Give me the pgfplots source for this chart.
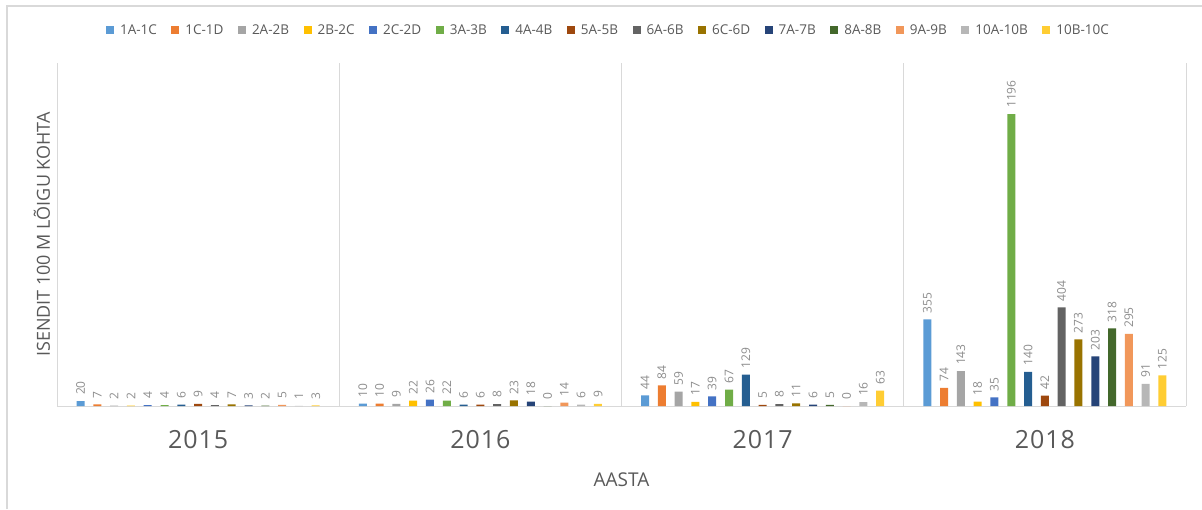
\documentclass[border=0pt]{standalone}
\usepackage{fontspec}
\setmainfont{Open Sans}
\usepackage{pgfplots}
\pgfplotsset{compat=1.18}
\definecolor{c1}{HTML}{5B9BD5}
\definecolor{c2}{HTML}{ED7D31}
\definecolor{c3}{HTML}{A5A5A5}
\definecolor{c4}{HTML}{FFC000}
\definecolor{c5}{HTML}{4472C4}
\definecolor{c6}{HTML}{70AD47}
\definecolor{c7}{HTML}{255E91}
\definecolor{c8}{HTML}{9E480E}
\definecolor{c9}{HTML}{636363}
\definecolor{c10}{HTML}{997300}
\definecolor{c11}{HTML}{264478}
\definecolor{c12}{HTML}{43682B}
\definecolor{c13}{HTML}{F1975A}
\definecolor{c14}{HTML}{B7B7B7}
\definecolor{c15}{HTML}{FFCD33}
\definecolor{txt}{HTML}{595959}
\definecolor{lbl}{HTML}{8C8C8C}
\definecolor{grd}{HTML}{D9D9D9}
\begin{document}
\begin{tikzpicture}[x=1pt,y=1pt]
\useasboundingbox (0,0) rectangle (1202,509);
\draw[grd, line width=1.2pt] (7,0) -- (7,503) -- (1202,503);
\begin{axis}[
  at={(57pt,103pt)}, anchor=south west,
  scale only axis, width=1129pt, height=343pt,
  ybar=8.8pt, bar width=8pt,
  xmin=-0.5, xmax=3.5, ymin=0, ymax=1405,
  xtick={0,1,2,3}, xticklabels={2015,2016,2017,2018},
  minor xtick={-0.5,0.5,1.5,2.5,3.5},
  xminorgrids=true, minor grid style={grd, line width=0.8pt},
  major tick length=0pt, minor tick length=0pt,
  ytick=\empty,
  extra y ticks={0}, extra y tick labels={}, extra y tick style={ymajorgrids=true, major grid style={grd, line width=1pt}},
  axis line style={draw=none},
  /pgf/number format/.cd, assume math mode=true, 1000 sep={},
  /pgfplots/.cd,
  xticklabel style={font=\fontsize{25}{27}\selectfont\addfontfeature{LetterSpace=4}, text=txt, yshift=-21pt},
  xlabel={AASTA},
  xlabel style={at={(rel axis cs:0.5,0)}, anchor=center, yshift=-74pt, font=\fontsize{19}{21}\selectfont, text=txt},
  ylabel={ISENDIT 100 M LÕIGU KOHTA},
  ylabel style={at={(rel axis cs:0,0.5)}, anchor=center, yshift=15pt, font=\fontsize{18}{20}\selectfont, text=txt},
  nodes near coords,
  every node near coord/.append style={rotate=90, anchor=west, font=\fontsize{12}{13}\selectfont, text=lbl, inner xsep=6pt, inner ysep=0pt},
  clip=false,
  legend columns=15,
  legend style={at={(rel axis cs:0.5,1)}, anchor=center, yshift=33pt, xshift=-13pt, draw=none, fill=none,
    font=\fontsize{13.5}{15}\selectfont, text=txt, column sep=4pt,
    /tikz/every even column/.append style={column sep=12.5pt}},
  legend image code/.code={\fill[#1] (0pt,-4pt) rectangle (8pt,4pt);},
]
\addplot[fill=c1, draw=none] coordinates {(0,20) (1,10) (2,44) (3,355)};
\addplot[fill=c2, draw=none] coordinates {(0,7) (1,10) (2,84) (3,74)};
\addplot[fill=c3, draw=none] coordinates {(0,2) (1,9) (2,59) (3,143)};
\addplot[fill=c4, draw=none] coordinates {(0,2) (1,22) (2,17) (3,18)};
\addplot[fill=c5, draw=none] coordinates {(0,4) (1,26) (2,39) (3,35)};
\addplot[fill=c6, draw=none] coordinates {(0,4) (1,22) (2,67) (3,1196)};
\addplot[fill=c7, draw=none] coordinates {(0,6) (1,6) (2,129) (3,140)};
\addplot[fill=c8, draw=none] coordinates {(0,9) (1,6) (2,5) (3,42)};
\addplot[fill=c9, draw=none] coordinates {(0,4) (1,8) (2,8) (3,404)};
\addplot[fill=c10, draw=none] coordinates {(0,7) (1,23) (2,11) (3,273)};
\addplot[fill=c11, draw=none] coordinates {(0,3) (1,18) (2,6) (3,203)};
\addplot[fill=c12, draw=none] coordinates {(0,2) (1,0) (2,5) (3,318)};
\addplot[fill=c13, draw=none] coordinates {(0,5) (1,14) (2,0) (3,295)};
\addplot[fill=c14, draw=none] coordinates {(0,1) (1,6) (2,16) (3,91)};
\addplot[fill=c15, draw=none] coordinates {(0,3) (1,9) (2,63) (3,125)};
\legend{1A-1C,1C-1D,2A-2B,2B-2C,2C-2D,3A-3B,4A-4B,5A-5B,6A-6B,6C-6D,7A-7B,8A-8B,9A-9B,10A-10B,10B-10C}
\end{axis}
\end{tikzpicture}
\end{document}
